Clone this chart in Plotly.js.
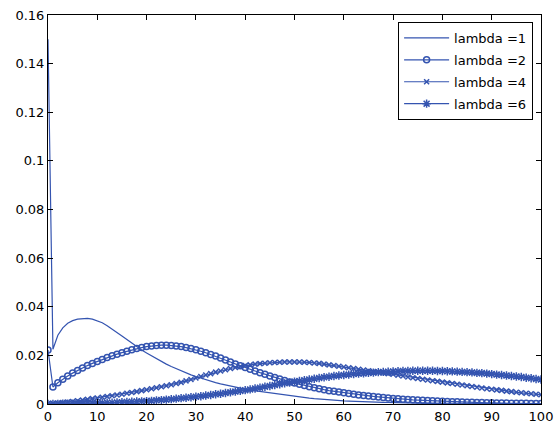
<!DOCTYPE html>
<html>
<head>
<meta charset="utf-8">
<script src="https://cdn.plot.ly/plotly-3.0.1.min.js"></script>
<style>html,body{margin:0;padding:0;background:#fff;}#chart{width:559px;height:424px;}</style>
</head>
<body>
<div id="chart"></div>
<script>
// x positions 0..100
const xValues = [0,1,2,3,4,5,6,7,8,9,10,11,12,13,14,15,16,17,18,19,20,21,22,23,24,25,26,27,28,29,30,31,32,33,34,35,36,37,38,39,40,41,42,43,44,45,46,47,48,49,50,51,52,53,54,55,56,57,58,59,60,61,62,63,64,65,66,67,68,69,70,71,72,73,74,75,76,77,78,79,80,81,82,83,84,85,86,87,88,89,90,91,92,93,94,95,96,97,98,99,100];

const lambda1 = [0.150,0.0225,0.0283,0.0313,0.0332,0.0343,0.0349,0.0352,0.0352,0.0349,0.0343,0.0334,0.0322,0.0309,0.0295,0.0280,0.0265,0.0250,0.0235,0.0222,0.0210,0.0198,0.0186,0.0175,0.0164,0.0154,0.0145,0.0136,0.0128,0.0120,0.0113,0.0106,0.0100,0.0094,0.0088,0.0083,0.0078,0.0073,0.0069,0.0065,0.0061,0.0057,0.0054,0.0051,0.0048,0.0045,0.0042,0.0039,0.0036,0.0033,0.0031,0.0028,0.0026,0.0024,0.0022,0.0020,0.0018,0.0017,0.0016,0.0014,0.0013,0.0012,0.0011,0.0010,0.0009,0.0009,0.0008,0.0008,0.0007,0.0007,0.0006,0.0006,0.0005,0.0005,0.0005,0.0004,0.0004,0.0004,0.0003,0.0003,0.0003,0.0003,0.0002,0.0002,0.0002,0.0002,0.0002,0.0002,0.0002,0.0002,0.0002,0.0002,0.0001,0.0001,0.0001,0.0001,0.0001,0.0001,0.0001,0.0001,0.0001];

const lambda2 = [0.0222,0.0070,0.0087,0.0102,0.0115,0.0127,0.0138,0.0148,0.0158,0.0167,0.0175,0.0183,0.0191,0.0198,0.0205,0.0211,0.0217,0.0223,0.0228,0.0232,0.0236,0.0239,0.0241,0.0242,0.0242,0.0241,0.0239,0.0236,0.0232,0.0228,0.0223,0.0217,0.0211,0.0204,0.0197,0.0189,0.0181,0.0173,0.0165,0.0157,0.0150,0.0143,0.0136,0.0129,0.0122,0.0115,0.0109,0.0103,0.0097,0.0091,0.0086,0.0081,0.0076,0.0071,0.0067,0.0063,0.0059,0.0055,0.0052,0.0049,0.0046,0.0043,0.0040,0.0037,0.0035,0.0033,0.0031,0.0029,0.0027,0.0025,0.0023,0.0022,0.0020,0.0019,0.0017,0.0016,0.0015,0.0014,0.0013,0.0012,0.0011,0.0010,0.0009,0.0009,0.0008,0.0007,0.0007,0.0006,0.0006,0.0005,0.0005,0.0004,0.0004,0.0004,0.0003,0.0003,0.0003,0.0003,0.0002,0.0002,0.0002];

const lambda4 = [0.0002,0.0003,0.0004,0.0006,0.0008,0.0010,0.0013,0.0016,0.0019,0.0022,0.0025,0.0028,0.0031,0.0034,0.0037,0.0040,0.0044,0.0047,0.0051,0.0055,0.0059,0.0063,0.0067,0.0071,0.0075,0.0079,0.0084,0.0089,0.0095,0.0101,0.0107,0.0113,0.0119,0.0125,0.0131,0.0136,0.0141,0.0146,0.0150,0.0154,0.0158,0.0161,0.0164,0.0166,0.0168,0.0170,0.0171,0.0172,0.0173,0.0173,0.0173,0.0173,0.0172,0.0171,0.0169,0.0167,0.0164,0.0161,0.0158,0.0155,0.0152,0.0149,0.0146,0.0143,0.0140,0.0137,0.0134,0.0131,0.0128,0.0125,0.0122,0.0118,0.0115,0.0111,0.0108,0.0105,0.0102,0.0099,0.0096,0.0093,0.0090,0.0087,0.0084,0.0081,0.0078,0.0075,0.0072,0.0069,0.0066,0.0063,0.0061,0.0058,0.0056,0.0053,0.0051,0.0048,0.0046,0.0044,0.0042,0.0040,0.0038];

const lambda6 = [0.0000,0.0000,0.0000,0.0001,0.0001,0.0001,0.0002,0.0002,0.0003,0.0003,0.0004,0.0004,0.0005,0.0005,0.0006,0.0007,0.0008,0.0009,0.0010,0.0011,0.0012,0.0013,0.0015,0.0016,0.0018,0.0020,0.0022,0.0024,0.0026,0.0028,0.0030,0.0032,0.0035,0.0037,0.0040,0.0042,0.0045,0.0048,0.0051,0.0054,0.0057,0.0060,0.0064,0.0067,0.0071,0.0074,0.0078,0.0081,0.0085,0.0088,0.0092,0.0095,0.0098,0.0101,0.0104,0.0107,0.0110,0.0112,0.0115,0.0117,0.0119,0.0121,0.0123,0.0125,0.0126,0.0128,0.0129,0.0131,0.0132,0.0133,0.0134,0.0135,0.0136,0.0136,0.0137,0.0137,0.0137,0.0137,0.0137,0.0136,0.0136,0.0135,0.0134,0.0133,0.0132,0.0131,0.0130,0.0128,0.0127,0.0125,0.0123,0.0121,0.0119,0.0117,0.0115,0.0113,0.0111,0.0108,0.0106,0.0103,0.0101];

const seriesNames = ["lambda =1","lambda =2","lambda =4","lambda =6"];
const xTicks = [0,10,20,30,40,50,60,70,80,90,100];
const xTickText = ["0","10","20","30","40","50","60","70","80","90","100"];
const yTicks = [0,0.02,0.04,0.06,0.08,0.1,0.12,0.14,0.16];
const yTickText = ["0","0.02","0.04","0.06","0.08","0.1","0.12","0.14","0.16"];

const blue = "rgb(52,84,176)";
const fontFamily = "DejaVu Sans, Arial, sans-serif";
const traces = [
  {x: xValues, y: lambda1, name: seriesNames[0], legendgroup: "g1", mode: "lines", line: {color: blue, width: 1.2}},
  {x: xValues, y: lambda2, name: seriesNames[1], legendgroup: "g2", mode: "lines+markers", line: {color: blue, width: 1.2},
   marker: {symbol: "circle-open", size: 6, color: blue, line: {width: 1.5, color: blue}}},
  {x: xValues, y: lambda4, name: seriesNames[2], legendgroup: "g3", mode: "lines+markers", line: {color: blue, width: 1.2},
   marker: {symbol: "x-thin-open", size: 5, color: blue, line: {width: 1.5, color: blue}}},
  {x: xValues, y: lambda6, name: seriesNames[3], legendgroup: "g4", mode: "lines+markers", line: {color: blue, width: 1.2},
   marker: {symbol: "asterisk-open", size: 7, color: blue, line: {width: 1.5, color: blue}}}
];

const axisCommon = {
  showgrid: false, zeroline: false, showline: true, mirror: "ticks",
  linecolor: "#000", linewidth: 1, ticks: "inside", ticklen: 5, tickcolor: "#000",
  tickfont: {family: fontFamily, size: 13, color: "#000"}
};

const layout = {
  width: 559, height: 424,
  margin: {l: 48, r: 18, t: 15, b: 20, pad: 0},
  paper_bgcolor: "#fff", plot_bgcolor: "#fff",
  showlegend: true,
  legend: {x: 0.984, y: 0.982, xanchor: "right", yanchor: "top",
           bgcolor: "#fff", bordercolor: "#000", borderwidth: 1,
           font: {family: fontFamily, size: 13, color: "#000"},
           itemwidth: 45, tracegroupgap: 2},
  xaxis: Object.assign({}, axisCommon, {range: [0, 100], tickvals: xTicks, ticktext: xTickText}),
  yaxis: Object.assign({}, axisCommon, {range: [0, 0.16], tickvals: yTicks, ticktext: yTickText})
};

Plotly.newPlot("chart", traces, layout, {displayModeBar: false, staticPlot: true});
</script>
</body>
</html>
